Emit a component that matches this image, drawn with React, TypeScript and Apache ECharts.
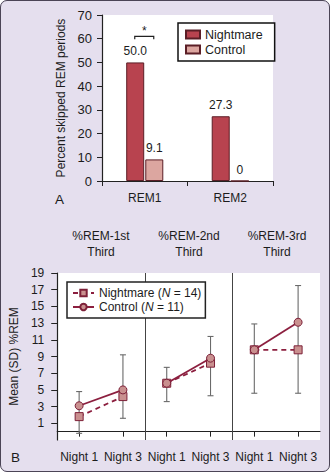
import React, { useEffect, useRef } from 'react';
import * as echarts from 'echarts';

// ---- Panel A data ----
const remCategories = ['REM1', 'REM2'];
const nightmareSkipped = [50.0, 27.3];
const controlSkipped = [9.1, 0];
const skippedTicksMax = 70;

// ---- Panel B data ----
const nightLabels = ['Night 1', 'Night 3', 'Night 1', 'Night 3', 'Night 1', 'Night 3'];
const thirdTitles = ['%REM-1st\nThird', '%REM-2nd\nThird', '%REM-3rd\nThird'];
const nightmareMean = [1.8, 4.2, 5.8, 8.2, 9.8, 9.8];
const nightmareSD = [2.0, 2.6, 2.2, 3.9, 5.2, 5.2];
const controlMean = [3.1, 5.0, 5.8, 8.8, 9.8, 13.1];
const controlSD = [1.7, 4.2, 1.9, 2.6, 3.1, 4.4];
const panelStarts = [2, 4];
const significance = [[0, 61]];

const FONT = '"Liberation Sans", Arial, Helvetica, sans-serif';
const TXT = '#1c1c1c';
const AX = '#222';
const NM_NAME = 'Nightmare (N = 14)';
const CT_NAME = 'Control (N = 11)';

function panelData(arr: number[], p: number) {
  return arr.map((v, i) => (Math.floor(i / 2) === p ? v : '-'));
}

function buildOption(): any {
  const lineSeries: any[] = [];
  for (let p = 0; p < 3; p++) {
    lineSeries.push({
      type: 'line',
      name: NM_NAME,
      xAxisIndex: 1,
      yAxisIndex: 1,
      data: panelData(nightmareMean, p),
      symbol: 'rect',
      symbolSize: 8,
      z: 4,
      lineStyle: { color: '#8c1f3f', width: 1.8, type: [5, 4] },
      itemStyle: { color: '#c9908f', borderColor: '#7d2038', borderWidth: 1 },
    });
    lineSeries.push({
      type: 'line',
      name: CT_NAME,
      xAxisIndex: 1,
      yAxisIndex: 1,
      data: panelData(controlMean, p),
      symbol: 'circle',
      symbolSize: 8,
      z: 5,
      lineStyle: { color: '#8c1f3f', width: 1.8, type: 'solid' },
      itemStyle: { color: '#c9908f', borderColor: '#7d2038', borderWidth: 1 },
    });
  }

  const errData = nightmareMean.map((m, i) => [i, m - nightmareSD[i], controlMean[i] + controlSD[i]]);

  const titleGraphics = thirdTitles.map((t, i) => ({
    type: 'text',
    x: 57 + 44 + i * 88,
    y: 228,
    silent: true,
    style: {
      text: t,
      textAlign: 'center',
      textVerticalAlign: 'top',
      fontSize: 12,
      lineHeight: 16,
      fontFamily: FONT,
      fill: TXT,
    },
  }));

  return {
    animation: false,
    backgroundColor: 'transparent',
    textStyle: { fontFamily: FONT, color: TXT },
    grid: [
      { left: 102, top: 15, width: 171, height: 166, show: true, backgroundColor: '#fff', borderWidth: 0 },
      { left: 57, top: 273, width: 263, height: 167, show: true, backgroundColor: '#fff', borderWidth: 0 },
    ],
    xAxis: [
      {
        type: 'category',
        gridIndex: 0,
        data: remCategories,
        axisLine: { lineStyle: { color: AX, width: 1.2 } },
        axisTick: { show: true, length: 5, lineStyle: { color: AX, width: 1 } },
        axisLabel: { fontSize: 12, color: TXT, fontFamily: FONT, margin: 11 },
      },
      {
        type: 'category',
        gridIndex: 1,
        data: nightLabels,
        axisLine: { lineStyle: { color: AX, width: 1.2 } },
        axisTick: { show: true, alignWithLabel: true, length: 5, lineStyle: { color: AX, width: 1 } },
        axisLabel: { fontSize: 12, color: TXT, fontFamily: FONT, margin: 11, interval: 0 },
      },
    ],
    yAxis: [
      {
        type: 'value',
        gridIndex: 0,
        min: 0,
        max: skippedTicksMax,
        interval: 10,
        name: 'Percent skipped REM periods',
        nameLocation: 'middle',
        nameGap: 34,
        nameTextStyle: { fontSize: 12, color: TXT, fontFamily: FONT },
        axisLine: { show: true, lineStyle: { color: AX, width: 1.2 } },
        axisTick: { show: true, length: 5, lineStyle: { color: AX, width: 1 } },
        splitLine: { show: false },
        axisLabel: { fontSize: 13, color: TXT, fontFamily: FONT, margin: 10 },
      },
      {
        type: 'value',
        gridIndex: 1,
        min: -1,
        max: 19,
        interval: 2,
        name: 'Mean (SD) %REM',
        nameLocation: 'middle',
        nameGap: 31,
        nameTextStyle: { fontSize: 12, color: TXT, fontFamily: FONT },
        axisLine: { show: true, lineStyle: { color: AX, width: 1.2 } },
        axisTick: { show: true, length: 6, lineStyle: { color: AX, width: 1 } },
        splitLine: { show: false },
        axisLabel: { fontSize: 12, color: TXT, fontFamily: FONT, margin: 13, showMinLabel: false },
      },
    ],
    legend: [
      {
        data: ['Nightmare', 'Control'],
        orient: 'vertical',
        left: 178,
        top: 23,
        padding: [5, 12, 5, 7],
        itemGap: 2,
        itemWidth: 14,
        itemHeight: 8,
        icon: 'rect',
        backgroundColor: '#fff',
        borderColor: '#111',
        borderWidth: 1.5,
        selectedMode: false,
        textStyle: { fontSize: 12.5, color: TXT, fontFamily: FONT },
      },
      {
        data: [NM_NAME, CT_NAME],
        orient: 'vertical',
        left: 67,
        top: 282,
        padding: [5, 4, 5, 5],
        itemGap: 2,
        itemWidth: 21,
        itemHeight: 8,
        backgroundColor: '#fff',
        borderColor: '#222',
        borderWidth: 1.5,
        selectedMode: false,
        formatter: (name: string) => name.replace('(N', '({i|N}'),
        textStyle: {
          fontSize: 12,
          color: TXT,
          fontFamily: FONT,
          rich: { i: { fontStyle: 'italic', fontSize: 12, color: TXT, fontFamily: FONT } },
        },
      },
    ],
    graphic: [
      {
        type: 'text',
        x: 55,
        y: 199,
        silent: true,
        style: { text: 'A', fontSize: 13.5, fontFamily: FONT, fill: TXT, textVerticalAlign: 'middle' },
      },
      {
        type: 'text',
        x: 11,
        y: 457.5,
        silent: true,
        style: { text: 'B', fontSize: 13.5, fontFamily: FONT, fill: TXT, textVerticalAlign: 'middle' },
      },
      ...titleGraphics,
    ],
    series: [
      {
        type: 'bar',
        name: 'Nightmare',
        xAxisIndex: 0,
        yAxisIndex: 0,
        data: nightmareSkipped,
        barWidth: 18,
        barGap: '6%',
        itemStyle: { color: '#b8434f', borderColor: '#5b1e26', borderWidth: 1 },
        label: {
          show: true,
          position: 'top',
          distance: 5,
          fontSize: 12,
          color: TXT,
          fontFamily: FONT,
          formatter: (p: any) => Number(p.value).toFixed(1),
        },
      },
      {
        type: 'bar',
        name: 'Control',
        xAxisIndex: 0,
        yAxisIndex: 0,
        data: controlSkipped,
        barWidth: 18,
        itemStyle: { color: '#dca6a0', borderColor: '#5b1e26', borderWidth: 1 },
        label: {
          show: true,
          position: 'top',
          distance: 5,
          fontSize: 12,
          color: TXT,
          fontFamily: FONT,
          formatter: (p: any) => (p.value === 0 ? '0' : Number(p.value).toFixed(1)),
        },
      },
      {
        type: 'custom',
        name: 'significance',
        xAxisIndex: 0,
        yAxisIndex: 0,
        silent: true,
        data: significance,
        renderItem: (params: any, api: any) => {
          const c = api.coord([api.value(0), api.value(1)]);
          const half = 9.5;
          const cx = c[0] - 0.5;
          return {
            type: 'group',
            children: [
              {
                type: 'polyline',
                shape: {
                  points: [
                    [cx - half, c[1] + 3],
                    [cx - half, c[1]],
                    [cx + half, c[1]],
                    [cx + half, c[1] + 3],
                  ],
                },
                style: { stroke: '#222', lineWidth: 1.2, fill: null },
              },
              {
                type: 'text',
                x: cx,
                y: c[1] - 5,
                style: {
                  text: '*',
                  textAlign: 'center',
                  textVerticalAlign: 'middle',
                  fontSize: 12,
                  fontFamily: FONT,
                  fill: TXT,
                },
              },
            ],
          };
        },
      },
      {
        type: 'custom',
        name: 'dividers',
        xAxisIndex: 1,
        yAxisIndex: 1,
        silent: true,
        z: 1,
        data: panelStarts.map((s) => [s, 0]),
        renderItem: (params: any, api: any) => {
          const c = api.coord([api.value(0), 0]);
          const bw = api.size([1, 0])[0];
          const x = Math.round(c[0] - bw / 2) + 0.5;
          const cs = params.coordSys;
          return {
            type: 'line',
            shape: { x1: x, y1: cs.y, x2: x, y2: cs.y + cs.height },
            style: { stroke: '#444', lineWidth: 1 },
          };
        },
      },
      {
        type: 'custom',
        name: 'errorbars',
        xAxisIndex: 1,
        yAxisIndex: 1,
        silent: true,
        z: 2,
        data: errData,
        renderItem: (params: any, api: any) => {
          const lo = api.coord([api.value(0), api.value(1)]);
          const hi = api.coord([api.value(0), api.value(2)]);
          const cap = 3;
          const st = { stroke: '#6a6a6a', lineWidth: 1.1 };
          return {
            type: 'group',
            children: [
              { type: 'line', shape: { x1: lo[0], y1: lo[1], x2: hi[0], y2: hi[1] }, style: st },
              { type: 'line', shape: { x1: lo[0] - cap, y1: lo[1], x2: lo[0] + cap, y2: lo[1] }, style: st },
              { type: 'line', shape: { x1: hi[0] - cap, y1: hi[1], x2: hi[0] + cap, y2: hi[1] }, style: st },
            ],
          };
        },
      },
      ...lineSeries,
    ],
  };
}

export default function App() {
  const ref = useRef<HTMLDivElement>(null);
  useEffect(() => {
    document.body.style.margin = '0';
    const chart = echarts.init(ref.current!, null, { renderer: 'svg' });
    chart.setOption(buildOption());
    return () => chart.dispose();
  }, []);
  return (
    <div
      style={{
        position: 'relative',
        width: 330,
        height: 472,
        background: '#e5dfee',
        borderRadius: 7,
      }}
    >
      <div ref={ref} style={{ position: 'absolute', left: 0, top: 0, width: 330, height: 472 }} />
      <div
        style={{
          position: 'absolute',
          left: 0,
          top: 0,
          width: 330,
          height: 472,
          boxSizing: 'border-box',
          border: '1.5px solid #4b4456',
          borderRadius: 7,
          pointerEvents: 'none',
        }}
      />
    </div>
  );
}
